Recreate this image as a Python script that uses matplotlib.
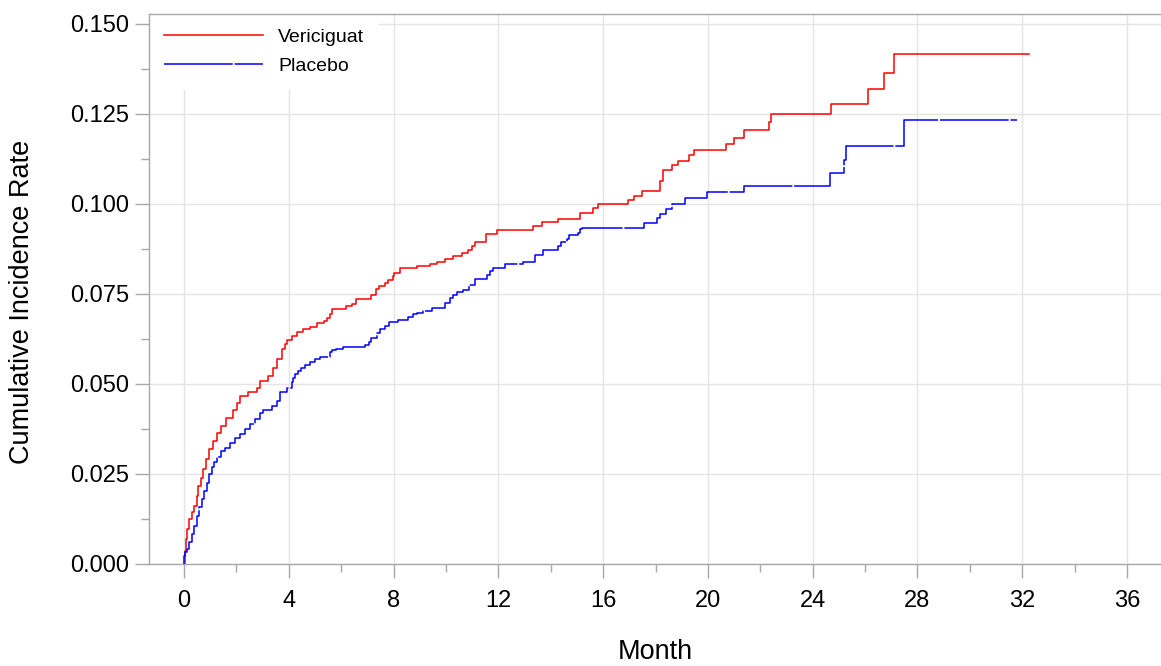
import matplotlib
matplotlib.use("Agg")
import matplotlib.pyplot as plt
from matplotlib.ticker import MultipleLocator, FormatStrFormatter

plt.rcParams['font.family'] = ['Liberation Sans', 'DejaVu Sans']

# cumulative incidence step curves (month, rate)
ver_month = [0, 0.02, 0.08, 0.13, 0.20, 0.29, 0.38, 0.48, 0.55, 0.64,
             0.74, 0.84, 0.97, 1.10, 1.25, 1.40, 1.60, 1.88, 2.01, 2.14,
             2.46, 2.78, 2.90, 3.22, 3.41, 3.54, 3.73, 3.86, 3.94, 4.11,
             4.33, 4.56, 4.81, 5.09, 5.35, 5.45, 5.57, 5.64, 6.19, 6.40,
             6.57, 7.13, 7.33, 7.46, 7.67, 7.80, 7.97, 8.03, 8.25, 8.88,
             9.39, 9.65, 9.97, 10.28, 10.60, 10.86, 10.98, 11.11, 11.53, 11.94,
             13.34, 13.66, 14.27, 15.12, 15.61, 15.82, 16.95, 17.16, 17.48, 18.17,
             18.28, 18.62, 18.87, 19.28, 19.47, 20.69, 21.00, 21.36, 22.34, 22.41,
             24.70, 26.12, 26.73, 27.11, 32.25]
ver_rate = [0, 0.0037, 0.0069, 0.0097, 0.0125, 0.0143, 0.0162, 0.0189, 0.0217, 0.0240,
            0.0263, 0.0291, 0.0319, 0.0342, 0.0365, 0.0383, 0.0406, 0.0429, 0.0448, 0.0466,
            0.0477, 0.0490, 0.0508, 0.0522, 0.0545, 0.0568, 0.0596, 0.0610, 0.0623, 0.0633,
            0.0644, 0.0653, 0.0658, 0.0668, 0.0674, 0.0683, 0.0693, 0.0707, 0.0716, 0.0723,
            0.0736, 0.0748, 0.0764, 0.0772, 0.0780, 0.0790, 0.0799, 0.0808, 0.0823, 0.0827,
            0.0833, 0.0840, 0.0847, 0.0855, 0.0863, 0.0873, 0.0882, 0.0893, 0.0916, 0.0928,
            0.0939, 0.0951, 0.0958, 0.0975, 0.0988, 0.1000, 0.1010, 0.1022, 0.1036, 0.1064,
            0.1093, 0.1107, 0.1120, 0.1136, 0.1150, 0.1167, 0.1184, 0.1205, 0.1227, 0.1249,
            0.1277, 0.1319, 0.1365, 0.1416, 0.1416]

pla_month = [0, 0.01, 0.04, 0.10, 0.20, 0.29, 0.38, 0.48, 0.58, 0.68,
             0.76, 0.87, 0.97, 1.06, 1.15, 1.27, 1.40, 1.57, 1.76, 1.95,
             2.14, 2.33, 2.52, 2.71, 2.90, 3.03, 3.35, 3.54, 3.67, 3.92,
             4.11, 4.17, 4.24, 4.36, 4.46, 4.62, 4.81, 5.00, 5.19, 5.57,
             5.64, 5.80, 6.06, 6.91, 7.08, 7.13, 7.36, 7.48, 7.67, 7.84,
             8.18, 8.56, 8.76, 8.88, 9.14, 9.46, 9.97, 10.16, 10.28, 10.41,
             10.66, 10.89, 11.11, 11.56, 11.68, 11.79, 12.26, 12.93, 13.40, 13.72,
             14.29, 14.38, 14.64, 14.71, 15.06, 15.12, 15.19, 17.57, 18.07, 18.17,
             18.40, 18.62, 19.13, 19.96, 21.36, 24.67, 25.21, 25.28, 27.49, 31.79]
pla_rate = [0, 0.0023, 0.0032, 0.0042, 0.0060, 0.0083, 0.0106, 0.0134, 0.0157, 0.0180,
            0.0203, 0.0226, 0.0249, 0.0268, 0.0282, 0.0298, 0.0314, 0.0323, 0.0337, 0.0351,
            0.0360, 0.0376, 0.0388, 0.0404, 0.0420, 0.0428, 0.0439, 0.0452, 0.0478, 0.0490,
            0.0505, 0.0517, 0.0527, 0.0536, 0.0545, 0.0554, 0.0560, 0.0568, 0.0576, 0.0588,
            0.0594, 0.0598, 0.0603, 0.0607, 0.0616, 0.0628, 0.0642, 0.0653, 0.0662, 0.0671,
            0.0679, 0.0685, 0.0693, 0.0697, 0.0704, 0.0711, 0.0725, 0.0739, 0.0748, 0.0755,
            0.0760, 0.0776, 0.0792, 0.0804, 0.0813, 0.0822, 0.0834, 0.0840, 0.0859, 0.0871,
            0.0882, 0.0893, 0.0903, 0.0914, 0.0919, 0.0930, 0.0933, 0.0948, 0.0960, 0.0972,
            0.0985, 0.0999, 0.1016, 0.1033, 0.1050, 0.1085, 0.1122, 0.1161, 0.1233, 0.1233]

fig = plt.figure(figsize=(11.61, 6.66), dpi=100)
ax = fig.add_axes([0.1283, 0.1532, 0.8717, 0.8265])

ax.step(ver_month, ver_rate, where='post', color='#ff0000', lw=1.1, label='Vericiguat', zorder=3)
ax.step(pla_month, pla_rate, where='post', color='#0000ff', lw=1.1, label='Placebo',
        dashes=(45, 1.2), zorder=3)

ax.set_xlim(-1.34, 37.3)
ax.set_ylim(0, 0.1529)

ax.xaxis.set_major_locator(MultipleLocator(4))
ax.xaxis.set_minor_locator(MultipleLocator(2))
ax.yaxis.set_major_locator(MultipleLocator(0.025))
ax.yaxis.set_minor_locator(MultipleLocator(0.0125))
ax.yaxis.set_major_formatter(FormatStrFormatter('%.3f'))

ax.grid(True, which='major', color='#e4e4e4', lw=1.0, zorder=0)
ax.set_axisbelow(True)

for side in ['left', 'bottom', 'top']:
    ax.spines[side].set_color('#a8a8a8')
    ax.spines[side].set_linewidth(1.0)
    ax.spines[side].set_zorder(4)
ax.spines['right'].set_visible(False)

ax.tick_params(which='major', length=10, width=1.0, color='#a8a8a8', labelsize=17)
ax.tick_params(which='minor', length=5.5, width=1.0, color='#a8a8a8')
ax.tick_params(axis='x', which='major', pad=9)
ax.tick_params(axis='y', which='major', pad=4)

ax.set_xlabel('Month', fontsize=19.5)
ax.set_ylabel('Cumulative Incidence Rate', fontsize=19.5)
ax.xaxis.set_label_coords(0.5, -0.136)
ax.yaxis.set_label_coords(-0.113, 0.476)

leg = ax.legend(loc='upper left', bbox_to_anchor=(0, 1), borderaxespad=0,
                borderpad=0.75, fontsize=14, handlelength=5.1, handletextpad=0.8,
                labelspacing=0.6, frameon=True, fancybox=False)
leg.get_frame().set_facecolor('white')
leg.get_frame().set_edgecolor('none')
leg.get_frame().set_alpha(1)
# keep the white legend box under the spines so the frame stays visible
leg.set_zorder(2)

fig.savefig('out.png', dpi=100)
